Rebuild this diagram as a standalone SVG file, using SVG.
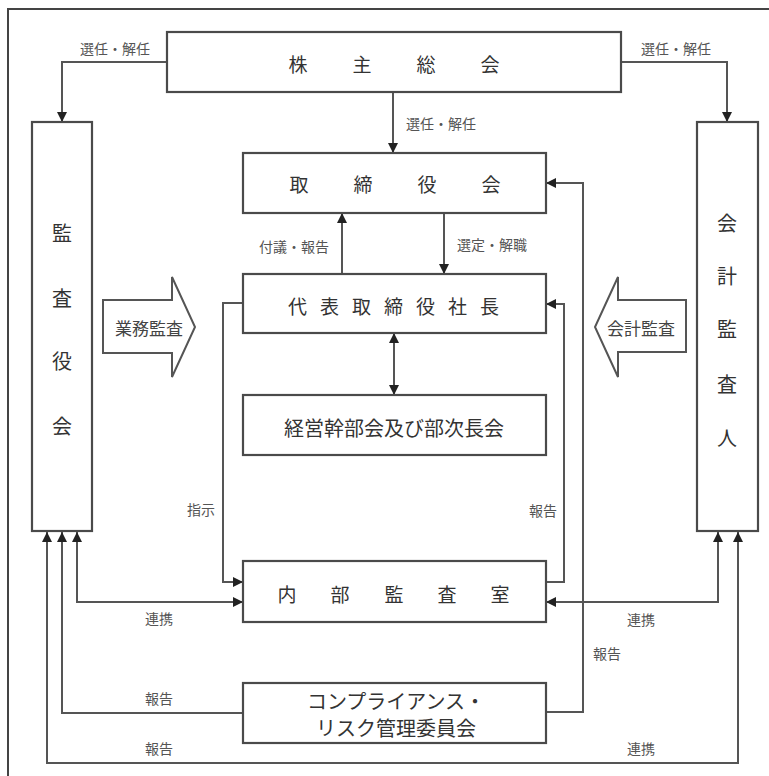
<svg xmlns="http://www.w3.org/2000/svg" width="769" height="776" viewBox="0 0 769 776">
<style>
.box{fill:#fff;stroke:#4a4a4a;stroke-width:2.2}
.ln{fill:none;stroke:#555;stroke-width:2}
.big{font-family:"Noto Sans CJK JP","Noto Sans CJK SC",sans-serif;font-size:19px;fill:#333;text-anchor:middle;dominant-baseline:central}
.mid{font-family:"Noto Sans CJK JP","Noto Sans CJK SC",sans-serif;font-size:20px;fill:#333;text-anchor:middle;dominant-baseline:central}
.sm{font-family:"Noto Sans CJK JP","Noto Sans CJK SC",sans-serif;font-size:14px;fill:#555;text-anchor:middle;dominant-baseline:central}
.ar{font-family:"Noto Sans CJK JP","Noto Sans CJK SC",sans-serif;font-size:17px;fill:#444;text-anchor:middle;dominant-baseline:central}
</style>
<defs>
<marker id="ah" viewBox="0 0 10 10" refX="10" refY="5" markerWidth="10" markerHeight="10" markerUnits="userSpaceOnUse" orient="auto-start-reverse">
<path d="M0,0 L10,5 L0,10 z" fill="#222"/>
</marker>
</defs>
<rect x="8" y="9" width="800" height="800" fill="#fff" stroke="#444" stroke-width="2"/>

<g id="connectors">
<polyline class="ln" points="167,62 62,62 62,122" marker-end="url(#ah)"/>
<polyline class="ln" points="621,62 727,62 727,122" marker-end="url(#ah)"/>
<line class="ln" x1="393" y1="92" x2="393" y2="153" marker-end="url(#ah)"/>
<line class="ln" x1="342" y1="274" x2="342" y2="213" marker-end="url(#ah)"/>
<line class="ln" x1="444" y1="213" x2="444" y2="274" marker-end="url(#ah)"/>
<line class="ln" x1="394" y1="333" x2="394" y2="395" marker-start="url(#ah)" marker-end="url(#ah)"/>
<polyline class="ln" points="243,303 223,303 223,582 243,582" marker-end="url(#ah)"/>
<polyline class="ln" points="546,582 564,582 564,304 546,304" marker-end="url(#ah)"/>
<polyline class="ln" points="546,712 583,712 583,183 546,183" marker-end="url(#ah)"/>
<polyline class="ln" points="77,532 77,602 243,602" marker-start="url(#ah)" marker-end="url(#ah)"/>
<polyline class="ln" points="718,532 718,602 546,602" marker-start="url(#ah)" marker-end="url(#ah)"/>
<polyline class="ln" points="243,713 62,713 62,532" marker-end="url(#ah)"/>
<polyline class="ln" points="47,532 47,763 738,763 738,532" marker-start="url(#ah)" marker-end="url(#ah)"/>
<text class="sm" x="115" y="48">選任・解任</text>
<text class="sm" x="676" y="48">選任・解任</text>
<text class="sm" x="441" y="123">選任・解任</text>
<text class="sm" x="294" y="246">付議・報告</text>
<text class="sm" x="492" y="244">選定・解職</text>
<text class="sm" x="201" y="509">指示</text>
<text class="sm" x="543" y="510">報告</text>
<text class="sm" x="159" y="618">連携</text>
<text class="sm" x="641" y="619">連携</text>
<text class="sm" x="607" y="653">報告</text>
<text class="sm" x="159" y="698">報告</text>
<text class="sm" x="159" y="748">報告</text>
<text class="sm" x="641" y="748">連携</text>
</g>

<g id="shareholders">
<rect class="box" x="167" y="32" width="454" height="60"/>
<text class="big" x="298" y="63">株</text><text class="big" x="362" y="63">主</text><text class="big" x="426" y="63">総</text><text class="big" x="490" y="63">会</text>
</g>
<g id="auditors">
<rect class="box" x="32" y="122" width="60" height="409"/>
<text class="mid" x="62" y="232">監</text><text class="mid" x="62" y="297">査</text><text class="mid" x="62" y="360">役</text><text class="mid" x="62" y="425">会</text>
</g>
<g id="accounting-auditor">
<rect class="box" x="697" y="122" width="61" height="409"/>
<text class="mid" x="727" y="222">会</text><text class="mid" x="727" y="275">計</text><text class="mid" x="727" y="328">監</text><text class="mid" x="727" y="383">査</text><text class="mid" x="727" y="437">人</text>
</g>
<g id="board">
<rect class="box" x="243" y="153" width="303" height="60"/>
<text class="big" x="299" y="183">取</text><text class="big" x="363" y="183">締</text><text class="big" x="427" y="183">役</text><text class="big" x="491" y="183">会</text>
</g>
<g id="president">
<rect class="box" x="243" y="274" width="303" height="59"/>
<text class="big" x="400" y="305" letter-spacing="13">代表取締役社長</text>
</g>
<g id="executive">
<rect class="box" x="243" y="395" width="303" height="60"/>
<text class="mid" x="394" y="427" font-size="21">経営幹部会及び部次長会</text>
</g>
<g id="internal-audit">
<rect class="box" x="243" y="561" width="303" height="61"/>
<text class="big" x="287" y="593">内</text><text class="big" x="340" y="593">部</text><text class="big" x="394" y="593">監</text><text class="big" x="447" y="593">査</text><text class="big" x="500" y="593">室</text>
</g>
<g id="compliance">
<rect class="box" x="243" y="683" width="303" height="60"/>
<text class="mid" x="396" y="700">コンプライアンス・</text>
<text class="mid" x="396" y="727">リスク管理委員会</text>
</g>
<g id="business-audit">
<polygon points="103,300 172,300 172,277 195,327 172,377 172,353 103,353" fill="#fff" stroke="#555" stroke-width="2"/>
<text class="ar" x="149" y="327">業務監査</text>
</g>
<g id="accounting-audit">
<polygon points="686,300 618,300 618,277 595,327 618,377 618,352 686,352" fill="#fff" stroke="#555" stroke-width="2"/>
<text class="ar" x="641" y="327">会計監査</text>
</g>
</svg>
